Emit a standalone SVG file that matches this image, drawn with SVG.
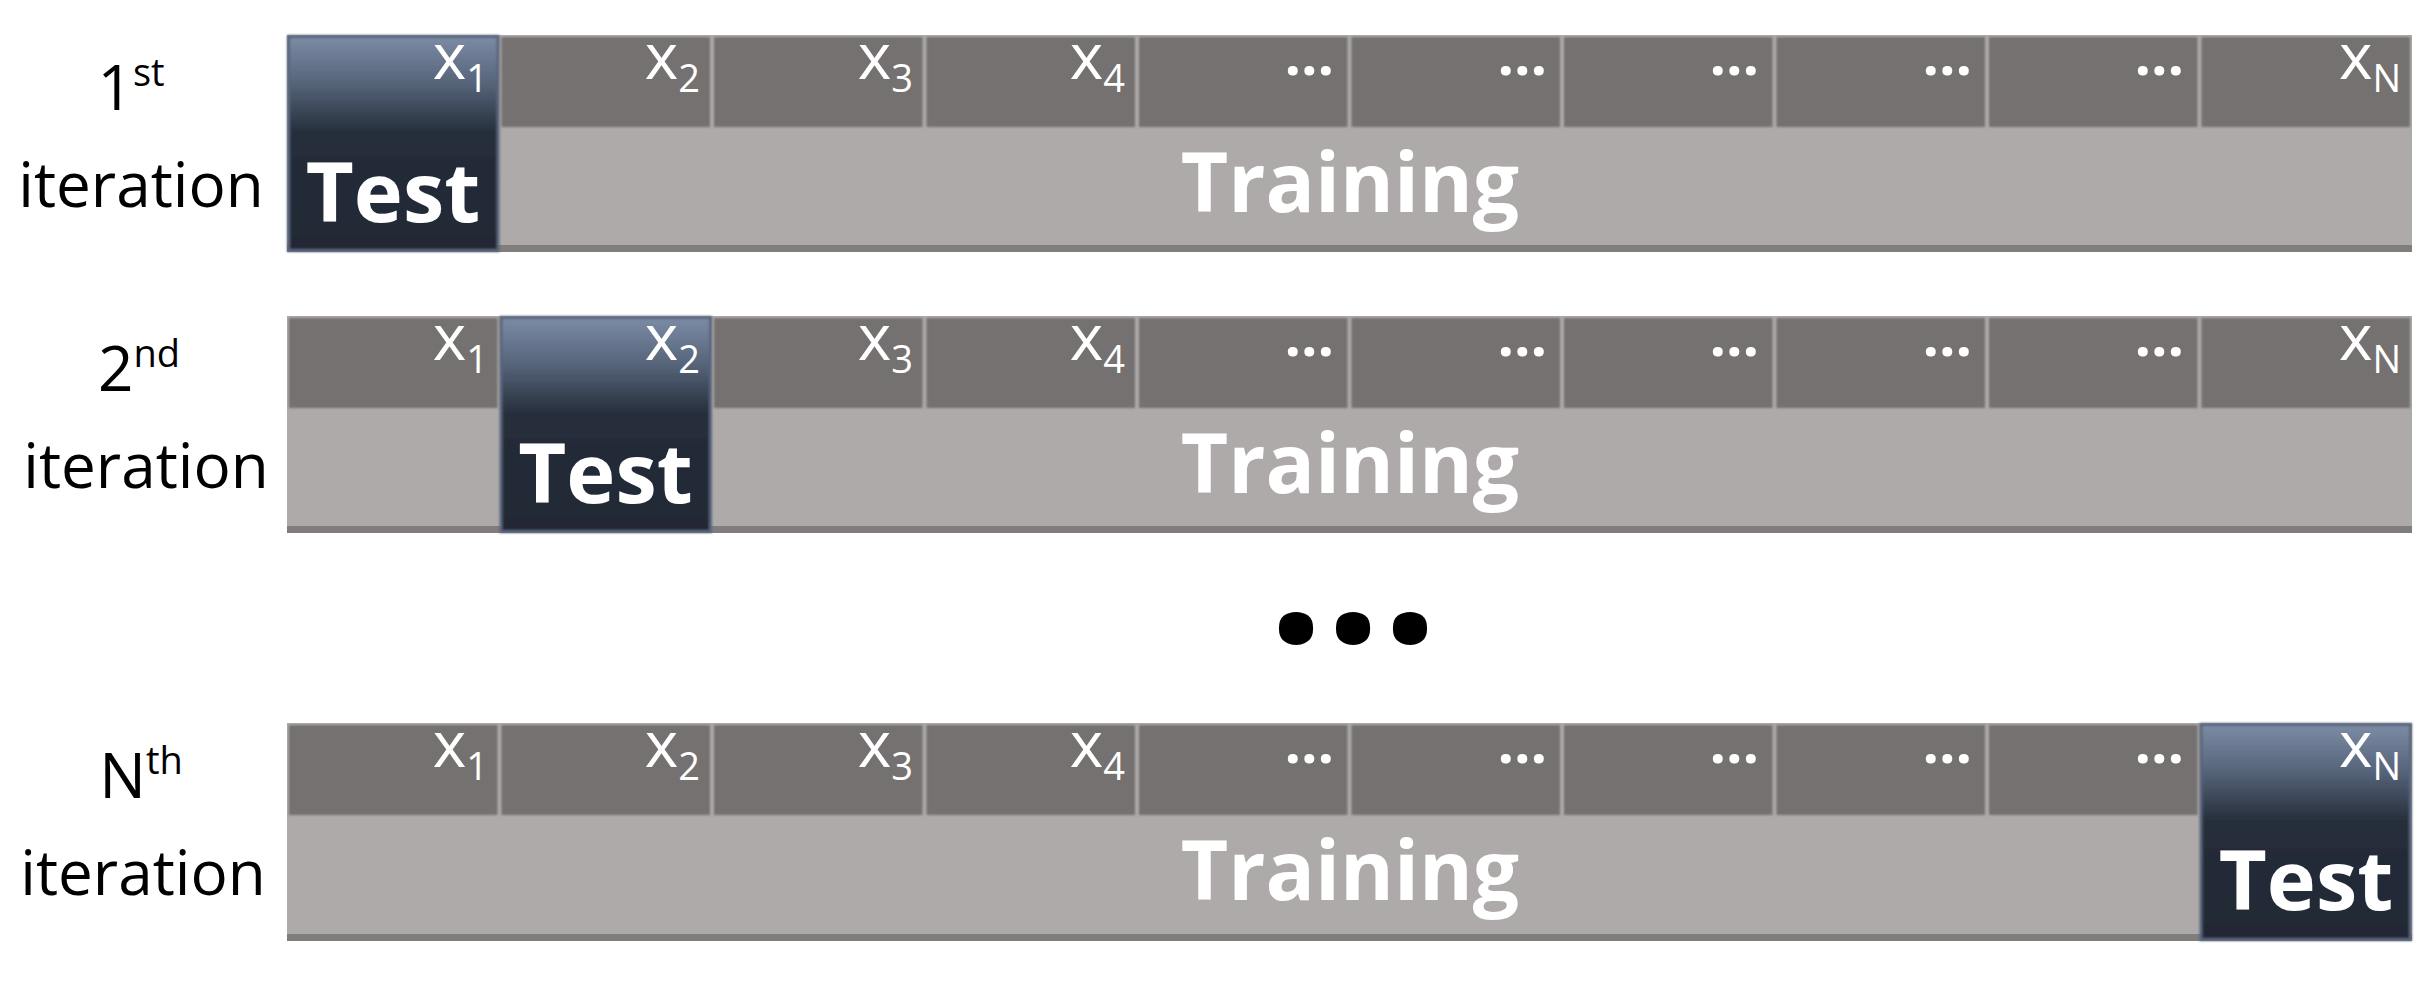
<svg xmlns="http://www.w3.org/2000/svg" width="2432" height="992" viewBox="0 0 2432 992">
<defs>
<linearGradient id="testGrad" x1="0" y1="0" x2="0" y2="1">
<stop offset="0" stop-color="#7c8ca5"/>
<stop offset="0.22" stop-color="#56647a"/>
<stop offset="0.45" stop-color="#262e3b"/>
<stop offset="1" stop-color="#212835"/>
</linearGradient>
<filter id="soft" x="-5%" y="-5%" width="110%" height="110%"><feGaussianBlur stdDeviation="1.2"/></filter>
</defs>
<style>
.lbl{font-family:"Open Sans","Noto Sans","Liberation Sans",sans-serif;fill:#000;font-size:62px;text-anchor:middle}
.hdr{font-family:"Open Sans","Noto Sans","Liberation Sans",sans-serif;fill:#fff;font-size:64px;text-anchor:end}
.dots{font-family:"Open Sans","Noto Sans","Liberation Sans",sans-serif;fill:#fff;font-size:58px;font-weight:bold;text-anchor:end}
.big{font-family:"Open Sans","Noto Sans","Liberation Sans",sans-serif;fill:#fff;font-weight:bold;text-anchor:middle}
.bar{fill:#aeaaa9}
.cell{fill:#75716f}
.shadow{fill:#817d7c}
.test{fill:url(#testGrad);stroke:#56657b;stroke-width:3}
</style>
<rect width="2432" height="992" fill="#fff"/>

<!-- Row 1 -->
<g id="row1">
<text class="lbl" x="131" y="110">1<tspan font-size="38" dy="-24">st</tspan></text>
<text class="lbl" x="141" y="207">iteration</text>
<rect class="bar" x="287" y="35" width="2125" height="217"/>
<rect class="shadow" x="287" y="245" width="2125" height="7"/>
<g filter="url(#soft)">
<rect class="cell" x="501.5" y="37" width="208.5" height="90"/>
<rect class="cell" x="714" y="37" width="208.5" height="90"/>
<rect class="cell" x="926.5" y="37" width="208.5" height="90"/>
<rect class="cell" x="1139" y="37" width="208.5" height="90"/>
<rect class="cell" x="1351.5" y="37" width="208.5" height="90"/>
<rect class="cell" x="1564" y="37" width="208.5" height="90"/>
<rect class="cell" x="1776.5" y="37" width="208.5" height="90"/>
<rect class="cell" x="1989" y="37" width="208.5" height="90"/>
<rect class="cell" x="2201.5" y="37" width="208.5" height="90"/>
</g>
<rect class="test" x="288.5" y="36.5" width="209.5" height="214" filter="url(#soft)"/>
<text class="hdr" x="488" y="79">x<tspan font-size="38" dy="13">1</tspan></text>
<text class="hdr" x="700" y="79">x<tspan font-size="38" dy="13">2</tspan></text>
<text class="hdr" x="913" y="79">x<tspan font-size="38" dy="13">3</tspan></text>
<text class="hdr" x="1125" y="79">x<tspan font-size="38" dy="13">4</tspan></text>
<text class="dots" x="1334" y="75">…</text>
<text class="dots" x="1547" y="75">…</text>
<text class="dots" x="1759" y="75">…</text>
<text class="dots" x="1972" y="75">…</text>
<text class="dots" x="2184" y="75">…</text>
<text class="hdr" x="2401" y="79">x<tspan font-size="38" dy="13">N</tspan></text>
<text class="big" x="393" y="222" font-size="83">Test</text>
<text class="big" x="1350" y="212" font-size="82">Training</text>
</g>

<!-- Row 2 -->
<g id="row2">
<text class="lbl" x="139" y="391">2<tspan font-size="38" dy="-24">nd</tspan></text>
<text class="lbl" x="146" y="488">iteration</text>
<rect class="bar" x="287" y="316" width="2125" height="217"/>
<rect class="shadow" x="287" y="526" width="2125" height="7"/>
<g filter="url(#soft)">
<rect class="cell" x="289" y="318" width="208.5" height="90"/>
<rect class="cell" x="714" y="318" width="208.5" height="90"/>
<rect class="cell" x="926.5" y="318" width="208.5" height="90"/>
<rect class="cell" x="1139" y="318" width="208.5" height="90"/>
<rect class="cell" x="1351.5" y="318" width="208.5" height="90"/>
<rect class="cell" x="1564" y="318" width="208.5" height="90"/>
<rect class="cell" x="1776.5" y="318" width="208.5" height="90"/>
<rect class="cell" x="1989" y="318" width="208.5" height="90"/>
<rect class="cell" x="2201.5" y="318" width="208.5" height="90"/>
</g>
<rect class="test" x="501" y="317.5" width="209.5" height="214" filter="url(#soft)"/>
<text class="hdr" x="488" y="360">x<tspan font-size="38" dy="13">1</tspan></text>
<text class="hdr" x="700" y="360">x<tspan font-size="38" dy="13">2</tspan></text>
<text class="hdr" x="913" y="360">x<tspan font-size="38" dy="13">3</tspan></text>
<text class="hdr" x="1125" y="360">x<tspan font-size="38" dy="13">4</tspan></text>
<text class="dots" x="1334" y="356">…</text>
<text class="dots" x="1547" y="356">…</text>
<text class="dots" x="1759" y="356">…</text>
<text class="dots" x="1972" y="356">…</text>
<text class="dots" x="2184" y="356">…</text>
<text class="hdr" x="2401" y="360">x<tspan font-size="38" dy="13">N</tspan></text>
<text class="big" x="605.5" y="503" font-size="83">Test</text>
<text class="big" x="1350" y="493" font-size="82">Training</text>
</g>

<!-- Ellipsis -->
<g id="ellipsis">
<text class="big" x="1353" y="642" font-size="200" style="fill:#000">…</text>
</g>

<!-- Row 3 -->
<g id="row3">
<text class="lbl" x="141" y="798">N<tspan font-size="38" dy="-24">th</tspan></text>
<text class="lbl" x="143" y="895">iteration</text>
<rect class="bar" x="287" y="723" width="2125" height="218"/>
<rect class="shadow" x="287" y="934" width="2125" height="7"/>
<g filter="url(#soft)">
<rect class="cell" x="289" y="725" width="208.5" height="90"/>
<rect class="cell" x="501.5" y="725" width="208.5" height="90"/>
<rect class="cell" x="714" y="725" width="208.5" height="90"/>
<rect class="cell" x="926.5" y="725" width="208.5" height="90"/>
<rect class="cell" x="1139" y="725" width="208.5" height="90"/>
<rect class="cell" x="1351.5" y="725" width="208.5" height="90"/>
<rect class="cell" x="1564" y="725" width="208.5" height="90"/>
<rect class="cell" x="1776.5" y="725" width="208.5" height="90"/>
<rect class="cell" x="1989" y="725" width="208.5" height="90"/>
</g>
<rect class="test" x="2201" y="724.5" width="209.5" height="215" filter="url(#soft)"/>
<text class="hdr" x="488" y="767">x<tspan font-size="38" dy="13">1</tspan></text>
<text class="hdr" x="700" y="767">x<tspan font-size="38" dy="13">2</tspan></text>
<text class="hdr" x="913" y="767">x<tspan font-size="38" dy="13">3</tspan></text>
<text class="hdr" x="1125" y="767">x<tspan font-size="38" dy="13">4</tspan></text>
<text class="dots" x="1334" y="763">…</text>
<text class="dots" x="1547" y="763">…</text>
<text class="dots" x="1759" y="763">…</text>
<text class="dots" x="1972" y="763">…</text>
<text class="dots" x="2184" y="763">…</text>
<text class="hdr" x="2401" y="767">x<tspan font-size="38" dy="13">N</tspan></text>
<text class="big" x="2306" y="910" font-size="83">Test</text>
<text class="big" x="1350" y="900" font-size="82">Training</text>
</g>
</svg>
